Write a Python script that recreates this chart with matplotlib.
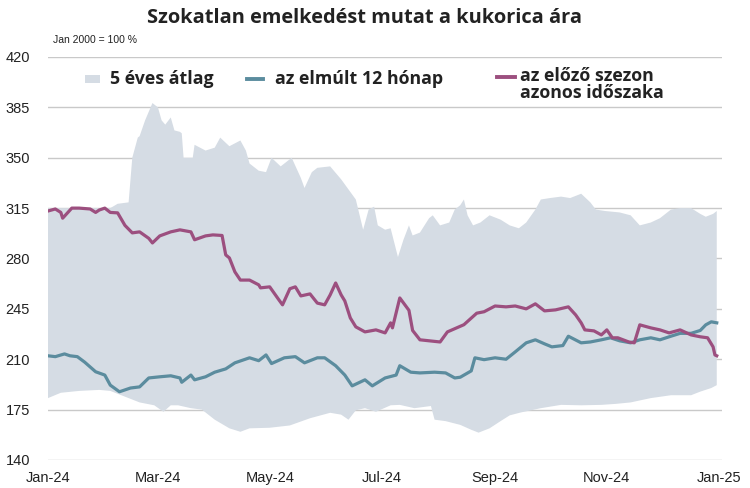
import matplotlib
matplotlib.use("Agg")
import matplotlib.pyplot as plt
import matplotlib.dates as mdates
from matplotlib.lines import Line2D
from matplotlib.patches import Rectangle
import numpy as np
import pandas as pd

BAND = "#d5dce4"
BLUE = "#5b8c9e"
PURPLE = "#9c4f7f"
INK = "#222222"
GRID = "#c9c9c9"

START = pd.Timestamp("2024-01-01")

# 5-year range, upper edge (day offset from 1 Jan 2024, index value)
hi_day = [0, 34, 38, 44, 46, 49, 50, 53, 56, 57, 60, 62, 64, 67, 69, 72, 73, 74, 79, 80,
          86, 91, 94, 99, 105, 108, 110, 115, 119, 122, 127, 133, 138, 140, 144, 147, 154,
          160, 164, 168, 172, 175, 178, 180, 184, 187, 191, 194, 197, 199, 203, 208, 210,
          214, 219, 222, 225, 227, 229, 232, 236, 241, 247, 252, 257, 261, 266, 269, 274,
          280, 285, 291, 296, 299, 304, 312, 318, 323, 329, 334, 340, 345, 351, 356, 359,
          363, 365]
hi_val = [315, 315, 318, 319, 350, 364, 365, 376, 385, 388, 385, 376, 373, 378, 369, 368,
          367, 350, 350, 359, 355, 357, 364, 358, 362, 355, 346, 341, 340, 350, 344, 350,
          336, 329, 340, 343, 344, 335, 328, 321, 300, 314, 316, 303, 300, 301, 281, 293,
          303, 296, 298, 308, 310, 303, 305, 314, 317, 321, 310, 303, 305, 310, 307, 303,
          301, 305, 314, 321, 322, 323, 322, 325, 319, 314, 313, 312, 310, 303, 305, 308,
          314, 315, 315, 311, 309, 311, 313]

# 5-year range, lower edge
lo_day = [0, 7, 17, 28, 34, 42, 50, 58, 63, 67, 71, 78, 84, 91, 99, 105, 110, 121, 132,
          143, 154, 160, 164, 168, 173, 179, 187, 192, 200, 209, 211, 217, 225, 231, 235,
          241, 247, 252, 258, 269, 280, 291, 302, 310, 318, 329, 340, 351, 356, 362, 365]
lo_val = [183, 186.7, 188, 188.7, 188, 184, 180, 178, 173.5, 178, 178, 176, 175, 168, 162,
          159.6, 162, 162.4, 164, 169, 172.8, 171.5, 168, 174.5, 176, 173.5, 178, 178.3,
          176, 177.5, 168, 167, 164.4, 161, 159, 162, 167, 171, 173, 176, 178.3, 178,
          178.3, 179, 180, 183, 185, 185, 187.5, 190, 192]

# last 12 months
cur_day = [0, 4, 9, 12, 16, 20, 26, 31, 34, 39, 45, 50, 55, 61, 67, 72, 73, 78, 80, 86,
           91, 97, 102, 110, 115, 119, 122, 129, 135, 140, 147, 151, 157, 162, 166, 173,
           177, 184, 190, 192, 198, 203, 211, 217, 222, 225, 231, 233, 238, 244, 250, 255,
           261, 266, 271, 275, 281, 284, 291, 296, 302, 307, 312, 318, 323, 329, 334, 340,
           345, 351, 356, 359, 362, 365]
cur_val = [212.4, 211.8, 213.7, 212.4, 211.8, 208, 201.3, 199, 192, 187.4, 190, 190.8,
           197, 197.8, 198.5, 197, 194, 199, 195.7, 197.8, 201, 203.3, 207.5, 211, 209,
           213, 207, 211, 211.8, 207.5, 211, 211, 205.5, 199, 191.5, 195.7, 191.5, 197,
           199, 205.5, 201, 200.5, 201, 200.5, 197, 197.5, 201.9, 211, 209.7, 211, 210,
           215.1, 221.4, 223.5, 220.7, 218.6, 219.5, 226, 221.4, 222, 223.5, 224.9, 222.8,
           221.4, 223.5, 224.9, 223.5, 226, 228, 228, 230, 233.9, 236, 235.3]

# same period of the previous season
prev_day = [0, 4, 7, 8, 13, 17, 23, 26, 28, 31, 34, 38, 42, 46, 50, 55, 57, 61, 67, 72,
            78, 80, 86, 90, 95, 97, 99, 102, 105, 110, 115, 116, 121, 126, 128, 132, 135,
            138, 143, 147, 151, 154, 157, 160, 162, 165, 168, 173, 179, 184, 187, 188, 192,
            197, 199, 203, 214, 218, 227, 234, 238, 244, 250, 255, 261, 266, 271, 277, 284,
            288, 291, 293, 298, 302, 305, 308, 311, 317, 320, 323, 329, 334, 339, 345, 351,
            356, 360, 363, 364, 365]
prev_val = [313, 314.4, 312, 308, 315, 315, 314.4, 312, 313.7, 315, 312, 311.7, 303, 297.8,
            298.5, 294, 290.8, 295.7, 298.5, 299.9, 298.5, 293, 295.7, 296.4, 296, 282.5,
            280.4, 270.7, 265, 265, 261.7, 259.6, 260.3, 251.3, 247.8, 259, 260.3, 254,
            255.4, 249, 247.8, 254.7, 263, 254.7, 250.5, 238.7, 232.5, 229, 230.4, 228.3,
            235.3, 231.8, 252.6, 244, 230, 223.5, 222, 229, 234, 242, 243, 247, 246.4, 247,
            245, 248.5, 243.6, 244.3, 246.4, 240.8, 235.3, 230.4, 229.7, 226.9, 230.4,
            224.9, 224.9, 222, 221.4, 233.9, 231.8, 230.4, 228.3, 230.4, 226.9, 225.6,
            224.9, 218.6, 213, 212.4]

y_ticks = [140, 175, 210, 245, 280, 315, 350, 385, 420]


def to_dates(days):
    return START + pd.to_timedelta(days, unit="D")


plt.rcParams.update({"font.family": ["Liberation Sans", "DejaVu Sans"]})

fig = plt.figure(figsize=(7.5, 4.88), dpi=100)
ax = fig.add_axes([0.064, 0.0574, 0.899, 0.8258])

# range band as one polygon: upper edge forward, lower edge back
xs = np.concatenate([mdates.date2num(to_dates(hi_day)), mdates.date2num(to_dates(lo_day))[::-1]])
ys = np.concatenate([hi_val, lo_val[::-1]])
ax.fill(xs, ys, color=BAND, lw=0, zorder=1)

ax.plot(to_dates(cur_day), cur_val, color=BLUE, lw=2.3, zorder=3)
ax.plot(to_dates(prev_day), prev_val, color=PURPLE, lw=2.3, zorder=3)

ax.set_xlim(pd.Timestamp("2024-01-01"), pd.Timestamp("2025-01-03"))
ax.set_ylim(140, 420)
ax.set_yticks(y_ticks)
ax.yaxis.grid(True, color=GRID, lw=1.0, zorder=0)
ax.set_axisbelow(True)
ax.xaxis.set_major_locator(mdates.MonthLocator(bymonth=[1, 3, 5, 7, 9, 11]))
ax.xaxis.set_major_formatter(mdates.DateFormatter("%b-%y"))
ax.tick_params(axis="both", length=0, labelsize=10.5, colors=INK)
ax.tick_params(axis="y", pad=13)
ax.tick_params(axis="x", pad=8)
for s in ax.spines.values():
    s.set_visible(False)

# title and note
fig.text(0.486, 0.963, "Szokatlan emelkedést mutat a kukorica ára", ha="center", va="center",
         fontsize=14.4, fontweight="bold", family="Open Sans", color=INK)
fig.text(0.071, 0.918, "Jan 2000 = 100 %", ha="left", va="center", fontsize=7.5, color=INK)

# hand-placed legend inside the plot
def ax_xy(px, py):
    return (px - 48) / 674, (460 - py) / 403

lx, ly = ax_xy(85, 83)
w, _ = ax_xy(100, 0)
ax.add_patch(Rectangle((lx, ly), w - lx, 8 / 403, transform=ax.transAxes, color=BAND,
                       lw=0, clip_on=False, zorder=4))
for (x0, x1, py, c) in [(247, 263, 79, BLUE), (497, 515, 77, PURPLE)]:
    a, b = ax_xy(x0, py)
    e, _ = ax_xy(x1, py)
    ax.add_line(Line2D([a, e], [b, b], transform=ax.transAxes, color=c, lw=2.8, clip_on=False))

leg_font = dict(fontsize=12.8, fontweight="bold", family="Open Sans", color=INK,
                transform=ax.transAxes, ha="left")
ax.text(*ax_xy(110, 79), "5 éves átlag", va="center", **leg_font)
ax.text(*ax_xy(275, 79), "az elmúlt 12 hónap", va="center", **leg_font)
ax.text(*ax_xy(520, 67), "az előző szezon\nazonos időszaka", va="top", linespacing=0.92,
        **leg_font)

fig.savefig("out.png", dpi=100, facecolor="white")
